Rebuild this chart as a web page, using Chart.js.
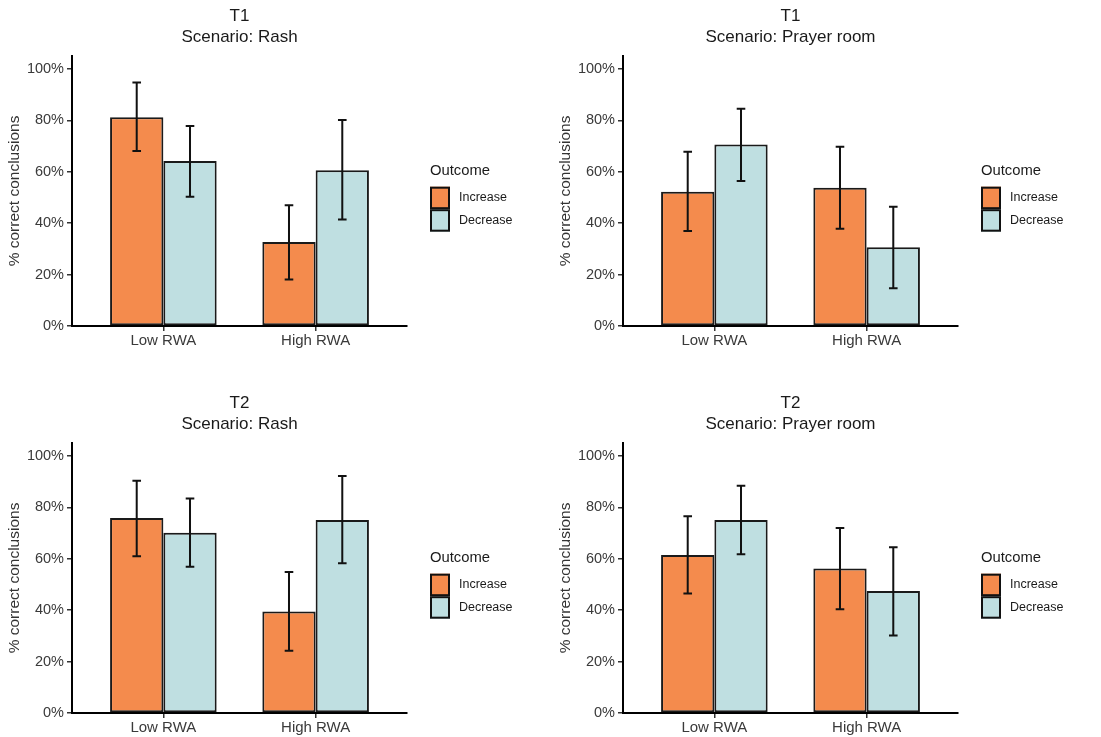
<!DOCTYPE html>
<html><head><meta charset="utf-8">
<script src="https://cdn.jsdelivr.net/npm/chart.js@4.4.1/dist/chart.umd.min.js"></script>
<style>
html,body{margin:0;padding:0;background:#fff;width:1101px;height:737px;overflow:hidden;}
canvas{position:absolute;}
</style></head><body>
<canvas id="c0" width="550" height="350" style="left:0px;top:0px;width:550px;height:350px"></canvas>
<canvas id="c1" width="550" height="350" style="left:551px;top:0px;width:550px;height:350px"></canvas>
<canvas id="c2" width="550" height="350" style="left:0px;top:387px;width:550px;height:350px"></canvas>
<canvas id="c3" width="550" height="350" style="left:551px;top:387px;width:550px;height:350px"></canvas>
<script>
// ---- data ----
const groups = ['Low RWA', 'High RWA'];
const categoryIndex = [1, 2];
const outcomes = ['Increase', 'Decrease'];
const legendTitle = 'Outcome';
const yTicks = [0, 20, 40, 60, 80, 100];
const yAxisTitle = '% correct conclusions';
const panelTitles = [
  ['T1', 'Scenario: Rash'],
  ['T1', 'Scenario: Prayer room'],
  ['T2', 'Scenario: Rash'],
  ['T2', 'Scenario: Prayer room']
];

// T1 Rash
const t1RashInc = [81.2, 32.7], t1RashIncLo = [68.1, 18.1], t1RashIncHi = [94.7, 47.0];
const t1RashDec = [64.2, 60.6], t1RashDecLo = [50.3, 41.4], t1RashDecHi = [77.8, 80.1];
// T1 Prayer room
const t1PrayInc = [52.2, 53.8], t1PrayIncLo = [36.9, 37.8], t1PrayIncHi = [67.8, 69.7];
const t1PrayDec = [70.6, 30.6], t1PrayDecLo = [56.4, 14.7], t1PrayDecHi = [84.5, 46.4];
// T2 Rash
const t2RashInc = [75.8, 39.5], t2RashIncLo = [61.0, 24.2], t2RashIncHi = [90.3, 54.8];
const t2RashDec = [70.1, 75.1], t2RashDecLo = [56.9, 58.2], t2RashDecHi = [83.4, 92.2];
// T2 Prayer room
const t2PrayInc = [61.4, 56.2], t2PrayIncLo = [46.5, 40.3], t2PrayIncHi = [76.5, 71.9];
const t2PrayDec = [75.1, 47.4], t2PrayDecLo = [61.7, 30.1], t2PrayDecHi = [88.4, 64.5];

const panels = [
  {inc: t1RashInc, incLo: t1RashIncLo, incHi: t1RashIncHi, dec: t1RashDec, decLo: t1RashDecLo, decHi: t1RashDecHi},
  {inc: t1PrayInc, incLo: t1PrayIncLo, incHi: t1PrayIncHi, dec: t1PrayDec, decLo: t1PrayDecLo, decHi: t1PrayDecHi},
  {inc: t2RashInc, incLo: t2RashIncLo, incHi: t2RashIncHi, dec: t2RashDec, decLo: t2RashDecLo, decHi: t2RashDecHi},
  {inc: t2PrayInc, incLo: t2PrayIncLo, incHi: t2PrayIncHi, dec: t2PrayDec, decLo: t2PrayDecLo, decHi: t2PrayDecHi}
];

// ---- styles ----
const FONT = '"Liberation Sans", Arial, Helvetica, sans-serif';
const colInc = '#F48B4D';
const colDec = '#BFDFE1';
const outline = '#1a1a1a';

Chart.defaults.font.family = FONT;

const errorBars = {
  id: 'errorBars',
  afterDatasetsDraw(chart) {
    const ctx = chart.ctx, ys = chart.scales.y;
    ctx.save();
    ctx.strokeStyle = '#111';
    ctx.lineWidth = 2;
    chart.data.datasets.forEach((ds, d) => {
      const meta = chart.getDatasetMeta(d);
      meta.data.forEach((el, i) => {
        const x = el.x;
        const y1 = ys.getPixelForValue(ds.errLo[i]);
        const y2 = ys.getPixelForValue(ds.errHi[i]);
        const hw = 4.3;
        ctx.beginPath();
        ctx.moveTo(x, y1); ctx.lineTo(x, y2);
        ctx.moveTo(x - hw, y1); ctx.lineTo(x + hw, y1);
        ctx.moveTo(x - hw, y2); ctx.lineTo(x + hw, y2);
        ctx.stroke();
      });
    });
    ctx.restore();
  }
};

const ggLegend = {
  id: 'ggLegend',
  afterDraw(chart) {
    const ctx = chart.ctx, a = chart.chartArea;
    const x0 = a.right + 23;
    ctx.save();
    ctx.textAlign = 'left';
    ctx.textBaseline = 'middle';
    ctx.fillStyle = '#1a1a1a';
    ctx.font = '14.8px ' + FONT;
    ctx.fillText(legendTitle, x0, a.top + 115);
    const keyTop = a.top + 130.7, kh = 22.5, kw = 20;
    chart.data.datasets.forEach((ds, i) => {
      const y = keyTop + i * kh;
      ctx.fillStyle = ds.backgroundColor;
      ctx.fillRect(x0, y, kw, kh);
      ctx.strokeStyle = '#111';
      ctx.lineWidth = 2;
      ctx.strokeRect(x0 + 1, y + 1, kw - 2, kh - 2);
      ctx.fillStyle = '#1a1a1a';
      ctx.font = '12.5px ' + FONT;
      ctx.fillText(ds.label, x0 + 29, y + kh / 2);
    });
    ctx.restore();
  }
};

panels.forEach((p, k) => {
  const mk = (vals) => categoryIndex.map((c, i) => ({x: c, y: vals[i]}));
  new Chart(document.getElementById('c' + k), {
    type: 'bar',
    data: {
      datasets: [
        {label: outcomes[0], data: mk(p.inc), errLo: p.incLo, errHi: p.incHi,
         backgroundColor: colInc, borderColor: outline, borderWidth: 2, borderSkipped: false,
         categoryPercentage: 0.7, barPercentage: 1},
        {label: outcomes[1], data: mk(p.dec), errLo: p.decLo, errHi: p.decHi,
         backgroundColor: colDec, borderColor: outline, borderWidth: 2, borderSkipped: false,
         categoryPercentage: 0.7, barPercentage: 1}
      ]
    },
    options: {
      responsive: false,
      devicePixelRatio: 1,
      animation: false,
      events: [],
      layout: {padding: {left: 0, right: 143, top: 0, bottom: 0}},
      plugins: {
        legend: {display: false},
        tooltip: {enabled: false},
        title: {
          display: true, text: panelTitles[k], fullSize: false,
          color: '#1a1a1a', font: {size: 17, weight: 'normal', lineHeight: 1.235},
          padding: {top: 6, bottom: 8}
        }
      },
      scales: {
        x: {
          type: 'linear', min: 0.4, max: 2.6, offset: false, bounds: 'data',
          afterBuildTicks: s => { s.ticks = categoryIndex.map(v => ({value: v})); },
          afterFit: s => { s.height = 24; },
          ticks: {callback: (v, i) => groups[i], color: '#3a3a3a', font: {size: 15}, padding: 1,
                  maxRotation: 0, autoSkip: false},
          grid: {display: true, drawOnChartArea: false, drawTicks: true, tickLength: 5,
                 color: '#333', lineWidth: 1.5, offset: false},
          border: {display: true, color: '#000', width: 2}
        },
        y: {
          min: 0, max: 105,
          afterBuildTicks: s => { s.ticks = yTicks.map(v => ({value: v})); },
          afterFit: s => { s.width = 72; },
          ticks: {callback: v => v + '%', color: '#3a3a3a', font: {size: 14.5}, padding: 3},
          grid: {display: true, drawOnChartArea: false, drawTicks: true, tickLength: 5,
                 color: '#333', lineWidth: 1.5},
          border: {display: true, color: '#000', width: 2},
          title: {display: true, text: yAxisTitle, color: '#333', font: {size: 15.5},
                  padding: {top: 5, bottom: 0}}
        }
      }
    },
    plugins: [errorBars, ggLegend]
  });
});
</script>
</body></html>
